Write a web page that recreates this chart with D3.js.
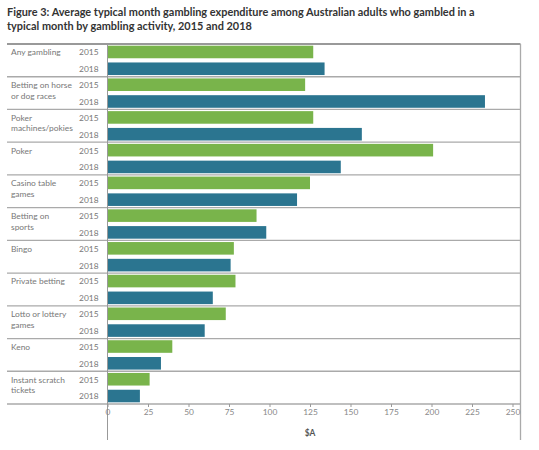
<!DOCTYPE html>
<html>
<head>
<meta charset="utf-8">
<script src="https://cdn.jsdelivr.net/npm/d3@7"></script>
<style>
  body { margin: 0; background: #fff; }
  svg { display: block; }
</style>
</head>
<body>
<svg id="chart" width="539" height="450"></svg>
<script>
const categories = [
  ["Any gambling"],
  ["Betting on horse", "or dog races"],
  ["Poker", "machines/pokies"],
  ["Poker"],
  ["Casino table", "games"],
  ["Betting on", "sports"],
  ["Bingo"],
  ["Private betting"],
  ["Lotto or lottery", "games"],
  ["Keno"],
  ["Instant scratch", "tickets"]
];
const years = ["2015", "2018"];
const values2015 = [127, 122, 127, 201, 125, 92, 78, 79, 73, 40, 26];
const values2018 = [134, 233, 157, 144, 117, 98, 76, 65, 60, 33, 20];
const tickValues = [0, 25, 50, 75, 100, 125, 150, 175, 200, 225, 250];
const titleLines = [
  "Figure 3: Average typical month gambling expenditure among Australian adults who gambled in a",
  "typical month by gambling activity, 2015 and 2018"
];
const axisTitle = "$A";

const colors = { "2015": "#79b44b", "2018": "#2b7590" };
const font = "Lato, 'Noto Sans', sans-serif";

const svg = d3.select("#chart");
const mLeft = 107.5, mRight = 520.5, mTop = 44, mBottom = 404;

// measure helper: font size so that sample text has target width
function fitSize(sample, targetW, weight) {
  const t = svg.append("text").attr("font-family", font).attr("font-weight", weight)
    .attr("font-size", 10).text(sample);
  const w = t.node().getComputedTextLength();
  t.remove();
  return 10 * targetW / w;
}
const titleSize = Math.min(12.5, fitSize(titleLines[0], 468, 700));
const labelSize = Math.min(10.5, fitSize("Betting on horse", 61, 400));

const x = d3.scaleLinear().domain([0, 250]).range([mLeft, 512.5]);
const y = d3.scaleBand().domain(d3.range(categories.length)).range([mTop, mBottom]).padding(0);
const yInner = d3.scaleBand().domain(years).range([0, y.bandwidth()]).paddingInner(0.25).paddingOuter(0.1);

// title
svg.append("g").selectAll("text").data(titleLines).join("text")
  .attr("x", 7).attr("y", (d, i) => 16 + i * 13.5)
  .attr("font-family", font).attr("font-weight", 700).attr("font-size", titleSize)
  .attr("fill", "#333").text(d => d);

// bars
const rows = categories.map((c, i) => ({ i, c, vals: [values2015[i], values2018[i]] }));
const g = svg.append("g");
rows.forEach(r => {
  years.forEach((yr, k) => {
    g.append("rect")
      .attr("x", x(0))
      .attr("y", y(r.i) + yInner(yr))
      .attr("width", x(r.vals[k]) - x(0))
      .attr("height", yInner.bandwidth())
      .attr("fill", colors[yr]);
    g.append("text")
      .attr("x", 98.5).attr("y", y(r.i) + yInner(yr) + yInner.bandwidth() / 2 + 3.4)
      .attr("text-anchor", "end")
      .attr("font-family", font).attr("font-size", labelSize).attr("fill", "#777")
      .text(yr);
  });
  r.c.forEach((line, j) => {
    g.append("text")
      .attr("x", 11).attr("y", y(r.i) + yInner("2015") + yInner.bandwidth() / 2 + 3.4 + j * 10.6)
      .attr("font-family", font).attr("font-size", labelSize).attr("fill", "#777")
      .text(line);
  });
});

// separators
svg.append("g").selectAll("line").data(d3.range(1, categories.length + 1)).join("line")
  .attr("x1", 7).attr("x2", mRight)
  .attr("y1", d => y(d) !== undefined ? y(d) : mBottom)
  .attr("y2", d => y(d) !== undefined ? y(d) : mBottom)
  .attr("stroke", "#aaa").attr("stroke-width", 1.3);

// top line
svg.append("line").attr("x1", 7).attr("x2", mRight).attr("y1", mTop).attr("y2", mTop)
  .attr("stroke", "#999").attr("stroke-width", 2);

// right border & left axis line
svg.append("line").attr("x1", mRight).attr("x2", mRight).attr("y1", mTop).attr("y2", 440)
  .attr("stroke", "#aaa").attr("stroke-width", 1.3);
svg.append("line").attr("x1", mLeft).attr("x2", mLeft).attr("y1", mTop).attr("y2", 440)
  .attr("stroke", "#999").attr("stroke-width", 1);

// x axis
const axis = d3.axisBottom(x).tickValues(tickValues).tickSize(3).tickSizeOuter(0);
const ax = svg.append("g").attr("transform", `translate(0,${mBottom})`).call(axis);
ax.select(".domain").remove();
ax.selectAll(".tick line").attr("stroke", "#999");
ax.selectAll(".tick text").attr("font-family", font).attr("font-size", labelSize).attr("fill", "#888").attr("dy", "0.55em");

svg.append("text").attr("x", x(125)).attr("y", 436)
  .attr("text-anchor", "middle").attr("font-family", font).attr("font-weight", 700)
  .attr("font-size", labelSize).attr("fill", "#555").text(axisTitle);
</script>
</body>
</html>
